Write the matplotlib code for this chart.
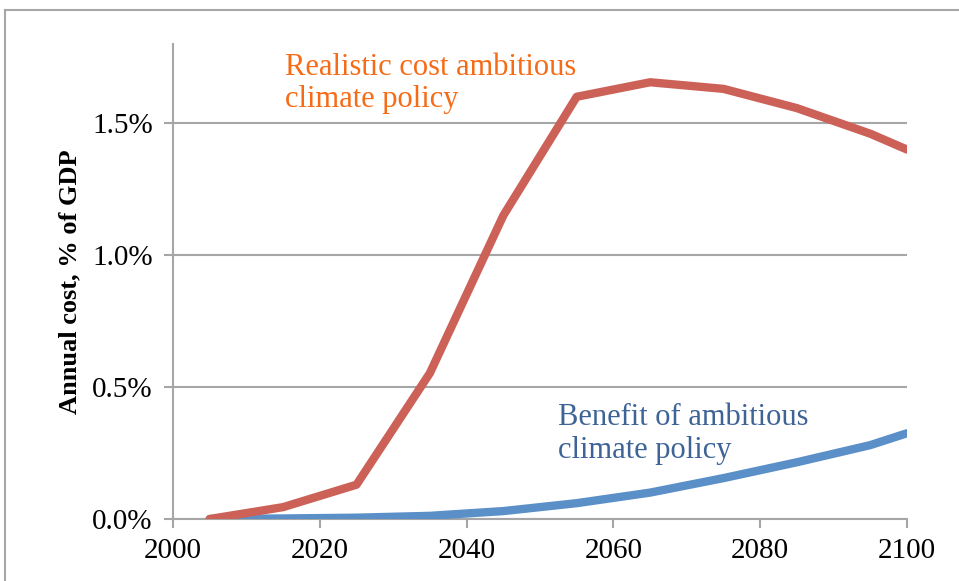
import matplotlib.pyplot as plt
from matplotlib.lines import Line2D
from matplotlib.ticker import FuncFormatter

# values (percent of GDP)
years = [2005, 2015, 2025, 2035, 2045, 2055, 2065, 2075, 2085, 2095, 2100]
cost = [0.0, 0.045, 0.13, 0.553, 1.15, 1.60, 1.655, 1.63, 1.557, 1.46, 1.40]
benefit = [0.0, 0.002, 0.005, 0.012, 0.03, 0.06, 0.10, 0.155, 0.215, 0.28, 0.325]

plt.rcParams['font.family'] = ['Liberation Serif', 'DejaVu Serif']

GREY = "#A6A6A6"

fig = plt.figure(figsize=(9.59, 5.81), dpi=100)
ax = fig.add_axes([173 / 959, 62 / 581, 734 / 959, 475 / 581])

ax.plot(years, benefit, color="#5B8FC7", lw=6.0, solid_capstyle="round", zorder=3)
ax.plot(years, cost, color="#CC6158", lw=6.0, solid_capstyle="round", zorder=4)

ax.set_xlim(2000, 2100)
ax.set_ylim(0, 1.8)
ax.set_xticks([2000, 2020, 2040, 2060, 2080, 2100])
ax.set_yticks([0, 0.5, 1.0, 1.5])
ax.yaxis.set_major_formatter(FuncFormatter(lambda v, p: f"{v:.1f}%"))

ax.grid(axis="y", color=GREY, lw=1.5)
ax.set_axisbelow(True)
for s in ["top", "right"]:
    ax.spines[s].set_visible(False)
for s in ["left", "bottom"]:
    ax.spines[s].set_color(GREY)
    ax.spines[s].set_linewidth(1.5)
ax.tick_params(axis="both", direction="out", length=6.5, width=1.5, color=GREY,
               labelsize=21, labelcolor="black")
ax.tick_params(axis="y", pad=8)
ax.tick_params(axis="x", pad=7)

ax.set_ylabel("Annual cost, % of GDP", fontsize=19, fontweight="bold", labelpad=8)

ax.text(2015.3, 1.765, "Realistic cost ambitious\nclimate policy", color="#F66B16",
        fontsize=22, va="top", linespacing=1.12)
ax.text(2052.4, 0.44, "Benefit of ambitious\nclimate policy", color="#3E6497",
        fontsize=22, va="top", linespacing=1.2)

# outer frame of the original graphic
fig.add_artist(Line2D([5 / 959, 5 / 959], [0, 1 - 10 / 581], transform=fig.transFigure,
                      color=GREY, lw=1.5))
fig.add_artist(Line2D([5 / 959, 1], [1 - 10 / 581, 1 - 10 / 581], transform=fig.transFigure,
                      color=GREY, lw=1.5))

fig.savefig("out.png", dpi=100)
